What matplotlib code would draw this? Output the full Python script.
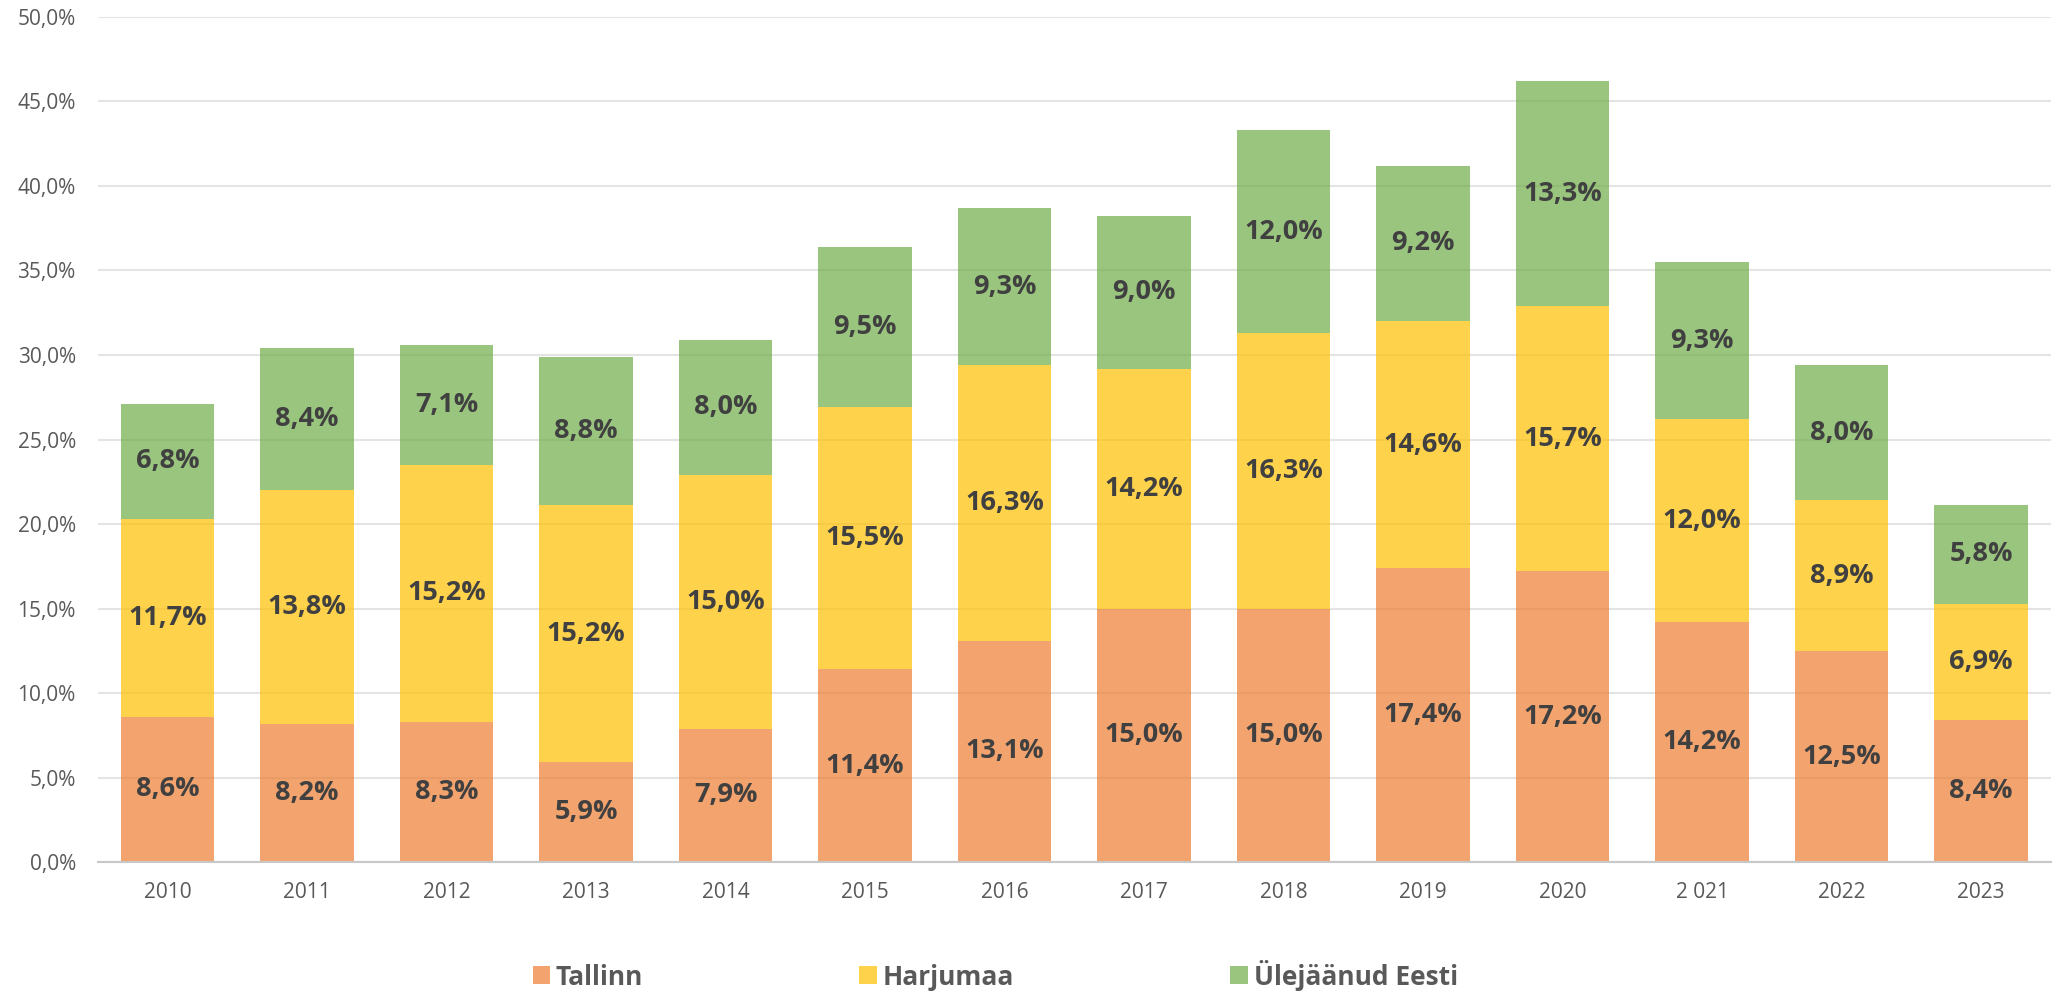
import matplotlib.pyplot as plt
import numpy as np
from matplotlib.patches import Patch
from matplotlib.ticker import FuncFormatter

years = ['2010', '2011', '2012', '2013', '2014', '2015', '2016', '2017',
         '2018', '2019', '2020', '2 021', '2022', '2023']
tallinn = [8.6, 8.2, 8.3, 5.9, 7.9, 11.4, 13.1, 15.0, 15.0, 17.4, 17.2, 14.2, 12.5, 8.4]
harjumaa = [11.7, 13.8, 15.2, 15.2, 15.0, 15.5, 16.3, 14.2, 16.3, 14.6, 15.7, 12.0, 8.9, 6.9]
ylejaanud = [6.8, 8.4, 7.1, 8.8, 8.0, 9.5, 9.3, 9.0, 12.0, 9.2, 13.3, 9.3, 8.0, 5.8]
series_names = ['Tallinn', 'Harjumaa', 'Ülejäänud Eesti']
colors = ['#ED7D31', '#FFC000', '#70AD47']

plt.rcParams['font.family'] = ['Open Sans', 'DejaVu Sans']

fig = plt.figure(figsize=(20.54, 9.91), dpi=100)
ax = fig.add_axes([0.0477, 0.130, 0.9508, 0.853])

x = np.arange(len(years))
bottom = np.zeros(len(years))
for vals, name, c in zip([tallinn, harjumaa, ylejaanud], series_names, colors):
    v = np.array(vals) / 100
    ax.bar(x, v, width=0.67, bottom=bottom, color=c, alpha=0.7,
           label=name, zorder=3, linewidth=0)
    for xi, b, h in zip(x, bottom, v):
        ax.text(xi, b + h / 2, f'{h*100:.1f}%'.replace('.', ','),
                ha='center', va='center', fontsize=19.5, fontweight='bold',
                color='#404040', zorder=4)
    bottom = bottom + v

ax.set_xlim(-0.5, len(years) - 0.5)
ax.set_ylim(0, 0.5)
ax.set_yticks(np.arange(0, 0.501, 0.05))
ax.yaxis.set_major_formatter(FuncFormatter(lambda v, p: f'{v*100:.1f}%'.replace('.', ',')))
ax.set_xticks(x)
ax.set_xticklabels(years)
ax.tick_params(axis='y', length=0, pad=16, labelsize=15, labelcolor='#595959')
ax.tick_params(axis='x', length=0, pad=14, labelsize=15, labelcolor='#595959')
ax.grid(axis='y', color='#E4E4E4', linewidth=1.5, zorder=1)
for s in ['top', 'right', 'left']:
    ax.spines[s].set_visible(False)
ax.spines['bottom'].set_color('#C8C8C8')
ax.spines['bottom'].set_linewidth(1.5)
ax.spines['bottom'].set_zorder(5)

handles = [Patch(facecolor=c, alpha=0.7, linewidth=0) for c in colors]
leg = fig.legend(handles, series_names, loc='center', bbox_to_anchor=(0.4845, 0.016),
                 ncol=3, frameon=False, handlelength=0.68, handleheight=0.68,
                 handletextpad=0.2, columnspacing=8.2,
                 prop={'size': 19, 'weight': 'bold'})
for t in leg.get_texts():
    t.set_color('#595959')

fig.savefig('out.png', dpi=100)
